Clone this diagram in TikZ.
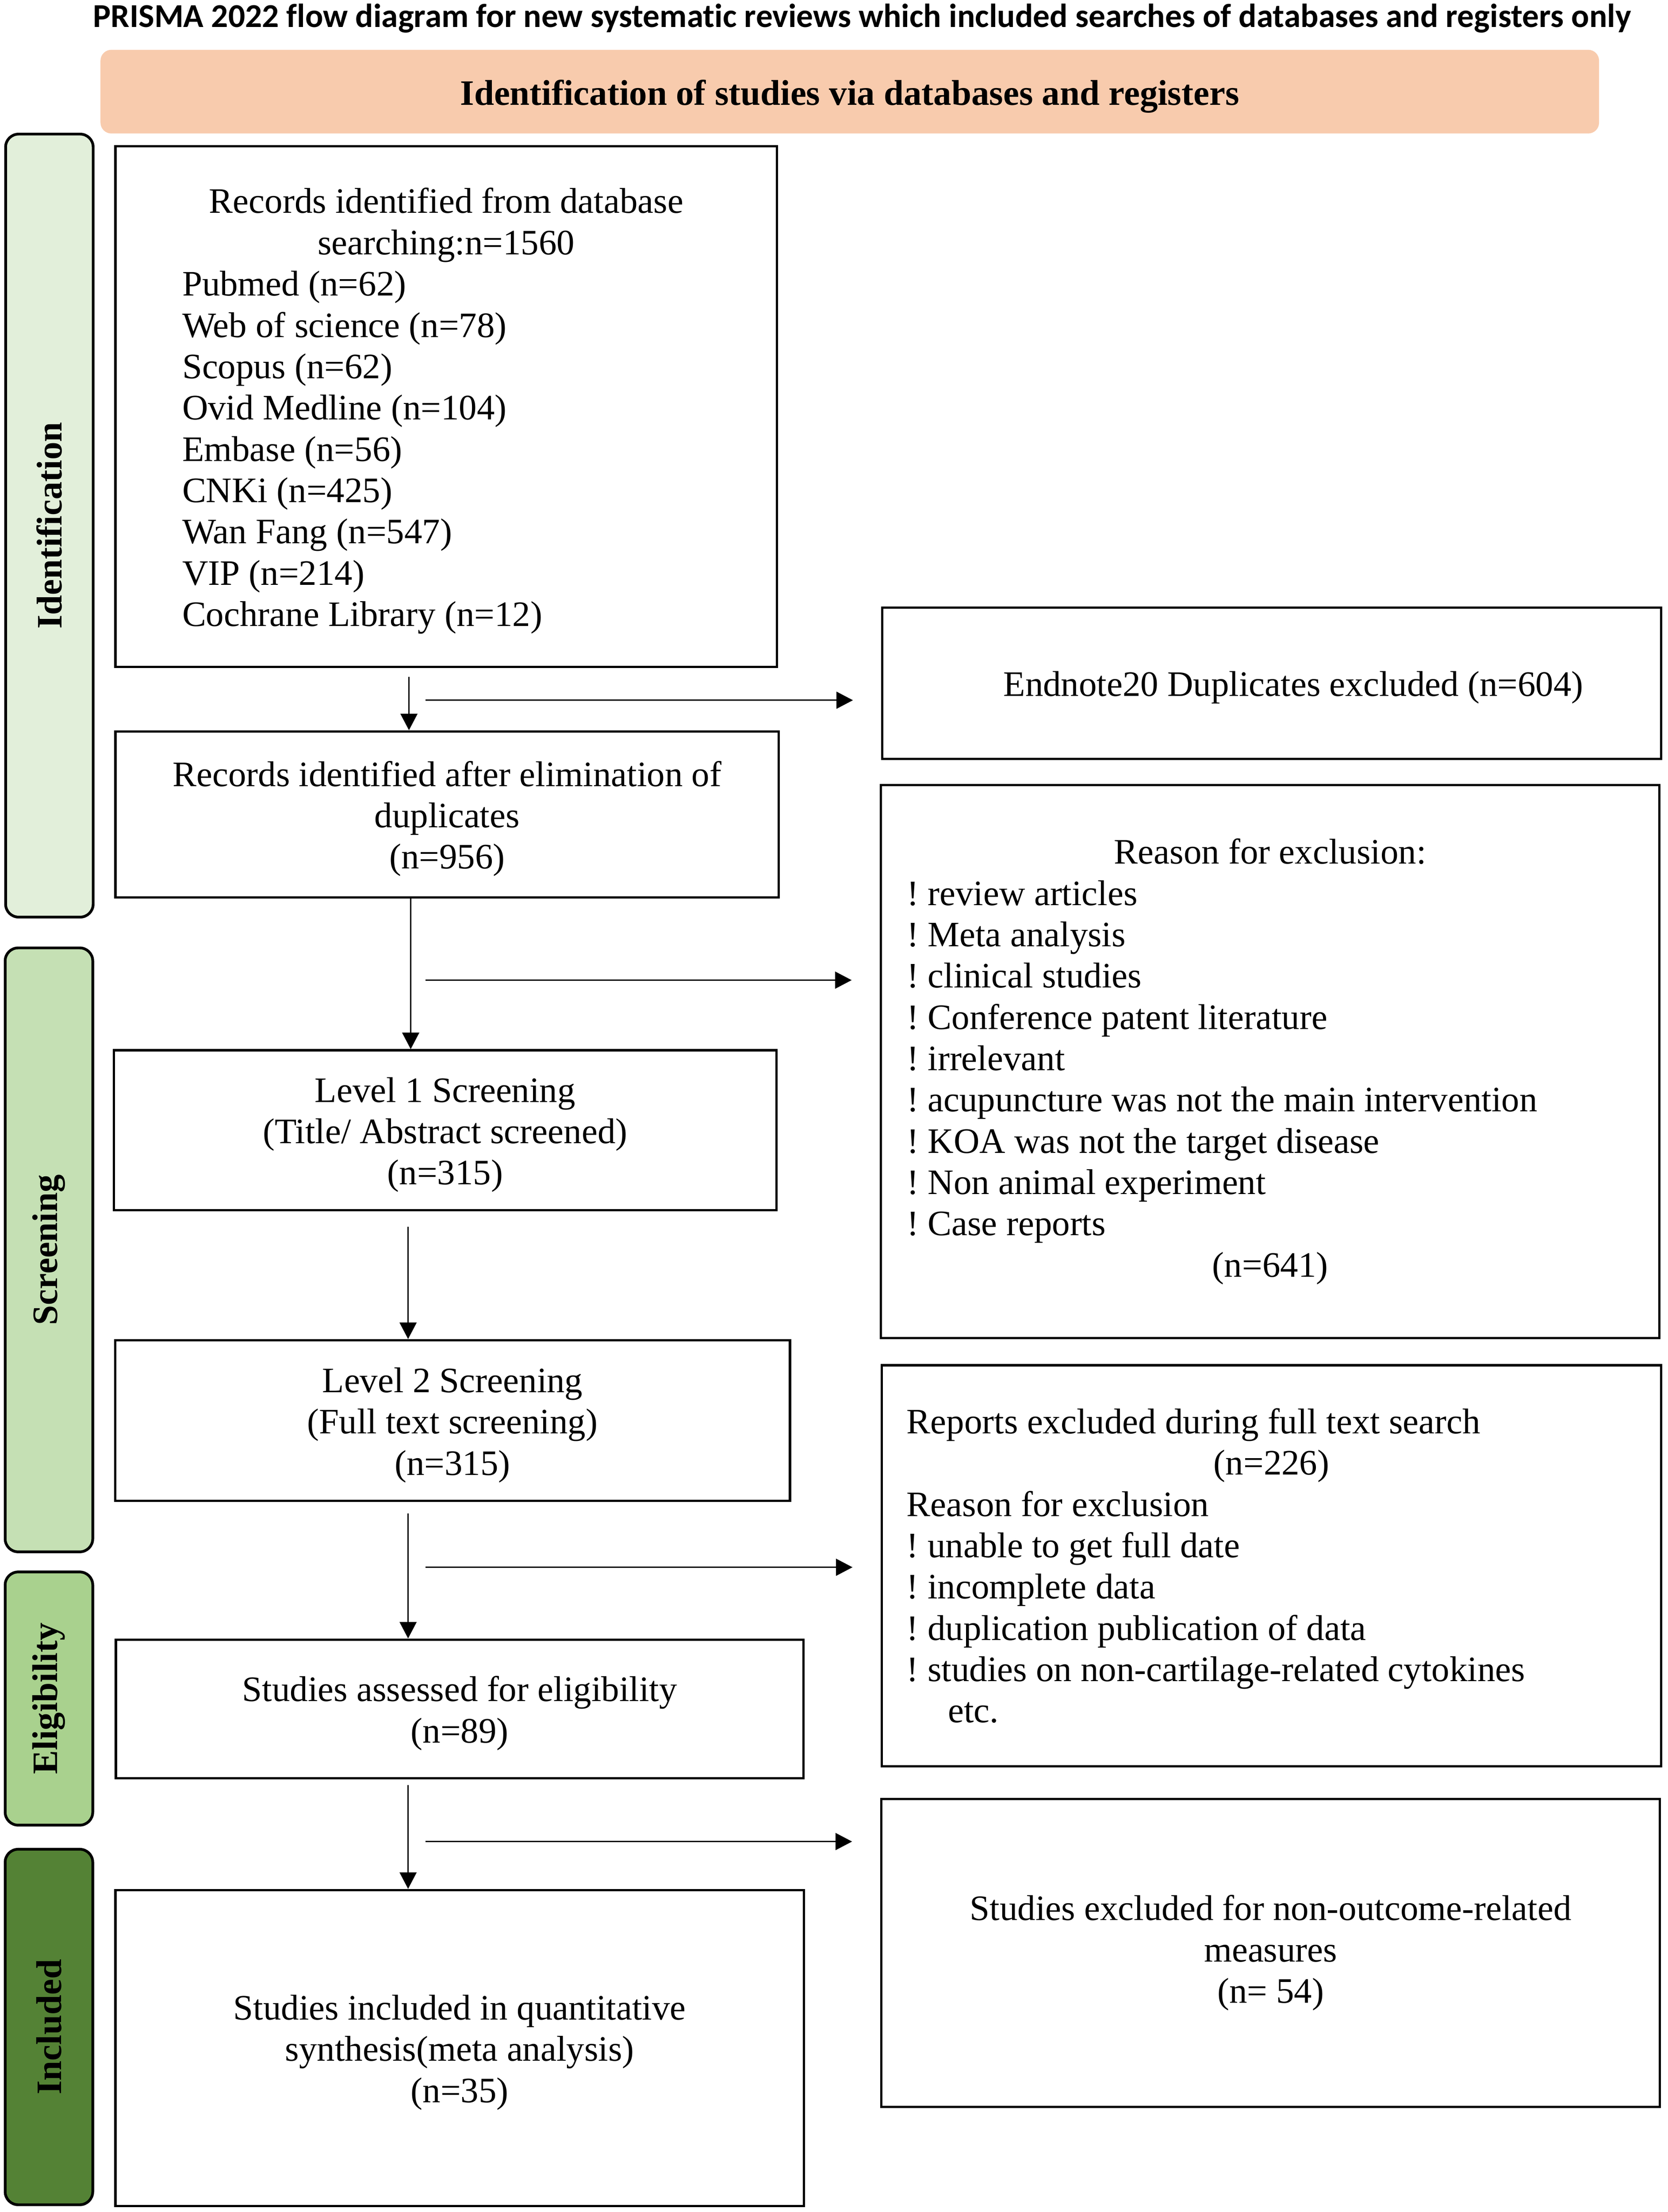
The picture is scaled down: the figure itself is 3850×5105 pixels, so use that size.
\documentclass[tikz,border=0pt]{standalone}
\usepackage{fontspec}
\setmainfont{Liberation Serif}
\newfontfamily\titlefont{Carlito}[Ligatures=NoCommon]
\usetikzlibrary{arrows.meta}
\definecolor{hdrc}{HTML}{F8CBAD}
\definecolor{idc}{HTML}{E2EFDA}
\definecolor{scrc}{HTML}{C5E0B4}
\definecolor{elic}{HTML}{A9D18E}
\definecolor{incc}{HTML}{548235}
\newcommand\tstrut{\rule{0pt}{0.78cm}}
\newcommand\hstrut{\rule{0pt}{0.80cm}}
\frenchspacing
\begin{document}
\begin{tikzpicture}[x=0.01cm,y=-0.01cm,
  box/.style={draw=black,line width=1.5pt,fill=white,inner sep=0pt,font=\fontsize{23.5}{27.1}\selectfont},
  side/.style={draw=black,line width=1.8pt,rounded corners=0.3cm,rotate=90,inner sep=0pt,
    font=\fontsize{23.5}{27.1}\selectfont\bfseries,minimum height=2.02cm},
  arr/.style={-{Triangle[length=0.38cm,width=0.39cm]},line width=0.9pt}]

\useasboundingbox (0,0) rectangle (3850,5105);
\fill[white] (0,0) rectangle (3850,5105);

% title
\node[anchor=base,inner sep=0pt,font=\titlefont\bfseries\fontsize{21.9}{26}\selectfont] (title) at (1990,63)
  {PRISMA 2022 flow diagram for new systematic reviews which included searches of databases and registers only};

% header
\node[fill=hdrc,rounded corners=0.25cm,minimum width=34.57cm,minimum height=1.93cm,inner sep=0pt,
  font=\bfseries\fontsize{23.5}{27.1}\selectfont] (hdr) at (1961.5,211.5)
  {\hstrut Identification of studies via databases and registers};

% side labels
\node[side,fill=idc,minimum width=18.06cm] (sid) at (114,1213) {Identification};
\node[side,fill=scrc,minimum width=13.93cm] (sscr) at (113,2884.5) {Screening};
\node[side,fill=elic,minimum width=5.84cm] (seli) at (113,3920) {Eligibility};
\node[side,fill=incc,minimum width=8.20cm] (sinc) at (113,4678) {Included};

% left column
\node[box,minimum width=15.26cm,minimum height=12.01cm] (b1) at (1030,938.5)
  {\begin{minipage}{12.18cm}\setlength{\parskip}{0pt}\centering\tstrut Records identified from database\\searching:n=1560\par
   \raggedright Pubmed (n=62)\\Web of science (n=78)\\Scopus (n=62)\\Ovid Medline (n=104)\\Embase (n=56)\\CNKi (n=425)\\Wan Fang (n=547)\\VIP (n=214)\\Cochrane Library (n=12)\end{minipage}};
\node[box,align=center,minimum width=15.30cm,minimum height=3.83cm] (b2) at (1032,1879.5)
  {\tstrut Records identified after elimination of\\duplicates\\(n=956)};
\node[box,align=center,minimum width=15.29cm,minimum height=3.69cm] (b3) at (1027.5,2608.5)
  {\tstrut Level 1 Screening\\(Title/ Abstract screened)\\(n=315)};
\node[box,align=center,minimum width=15.57cm,minimum height=3.71cm] (b4) at (1044.5,3278.5)
  {\tstrut Level 2 Screening\\(Full text screening)\\(n=315)};
\node[box,align=center,minimum width=15.86cm,minimum height=3.20cm] (b5) at (1061,3944)
  {\tstrut Studies assessed for eligibility\\(n=89)};
\node[box,align=center,minimum width=15.88cm,minimum height=7.29cm] (b6) at (1061,4726.5)
  {\tstrut Studies included in quantitative\\synthesis(meta analysis)\\(n=35)};

% right column
\node[box,minimum width=17.97cm,minimum height=3.49cm] (bA) at (2935.5,1576.5)
  {\tstrut\hspace*{1.0cm}Endnote20 Duplicates excluded (n=604)};
\node[box,minimum width=17.96cm,minimum height=12.76cm] (bB) at (2932,2450)
  {\begin{minipage}{16.76cm}\setlength{\parskip}{0pt}{\centering Reason for exclusion:\par}
   \raggedright ! review articles\\! Meta analysis\\! clinical studies\\! Conference patent literature\\! irrelevant\\! acupuncture was not the main intervention\\! KOA was not the target disease\\! Non animal experiment\\! Case reports\par
   {\centering (n=641)\par}\end{minipage}};
\node[box,minimum width=17.98cm,minimum height=9.25cm] (bC) at (2935,3613.5)
  {\begin{minipage}{16.83cm}\setlength{\parskip}{0pt}\raggedright Reports excluded during full text search\par
   {\centering (n=226)\par}
   Reason for exclusion\\! unable to get full date\\! incomplete data\\! duplication publication of data\\! studies on non-cartilage-related cytokines\\\hspace*{0.95cm}etc.\end{minipage}};
\node[box,align=center,minimum width=17.96cm,minimum height=7.10cm] (bD) at (2933,4507)
  {Studies excluded for non-outcome-related\\measures\\(n= 54)};

% vertical connectors
\coordinate (v1) at (944,1562);
\coordinate (v2) at (948,2074);
\coordinate (v3) at (942,2831);
\coordinate (v4) at (942,3493);
\coordinate (v5) at (942,4120);
\draw[arr] (v1) -- (v1 |- b2.north);
\draw[arr] (v2) -- (v2 |- b3.north);
\draw[arr] (v3) -- (v3 |- b4.north);
\draw[arr] (v4) -- (v4 |- b5.north);
\draw[arr] (v5) -- (v5 |- b6.north);

% horizontal connectors
\coordinate (h1) at (982,1616);
\coordinate (h2) at (982,2262);
\coordinate (h3) at (982,3617);
\coordinate (h4) at (982,4250);
\draw[arr,shorten >=0.65cm] (h1) -- (h1 -| bA.west);
\draw[arr,shorten >=0.65cm] (h2) -- (h2 -| bB.west);
\draw[arr,shorten >=0.65cm] (h3) -- (h3 -| bC.west);
\draw[arr,shorten >=0.65cm] (h4) -- (h4 -| bD.west);
\end{tikzpicture}
\end{document}
